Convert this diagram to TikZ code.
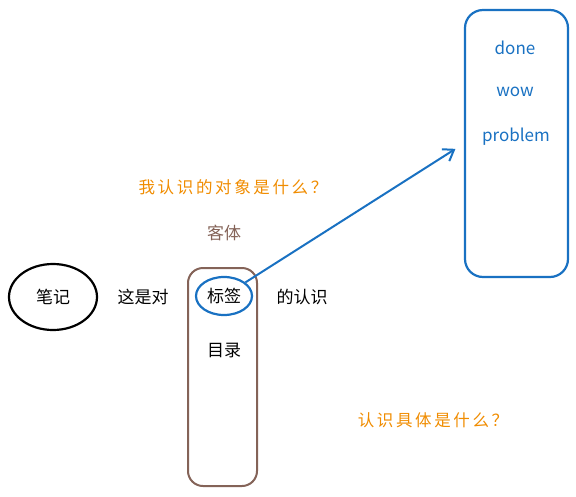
\documentclass[tikz,border=0pt]{standalone}
\usepackage{fontspec}
\newfontfamily\cjk{Noto Sans CJK SC}
\newfontfamily\cjkwide[LetterSpace=16]{Noto Sans CJK SC}
\usetikzlibrary{shapes.geometric, arrows.meta}

\definecolor{inkblue}{HTML}{1971C2}
\definecolor{inkorange}{HTML}{F08C00}
\definecolor{inkbrown}{HTML}{846358}

\tikzset{
  word/.style={font=\cjk\fontsize{17}{20}\selectfont, inner sep=0pt},
  question/.style={font=\cjkwide\fontsize{16.5}{20}\selectfont, text=inkorange, inner sep=0pt},
  listword/.style={font=\cjk\fontsize{17}{20}\selectfont, text=inkblue, inner sep=0pt}
}

\begin{document}
\begin{tikzpicture}[x=1pt, y=-1pt]

 \useasboundingbox (0,0) rectangle (576,496);

 %%%  nodes

 % note and object
 \node [ellipse, draw, line width=2.2pt, minimum width=88pt, minimum height=66pt, inner sep=0pt, word] (note) at (53,297) {笔记};
 \node [word] (this) at (143,297) {这是对};
 \node [rectangle, rounded corners=15pt, draw=inkbrown, line width=2pt, minimum width=69pt, minimum height=218pt] (object) at (222.5,377) {};
 \node [ellipse, draw=inkblue, line width=2.2pt, minimum width=56pt, minimum height=38pt, inner sep=0pt, word] (tag) at (224,296) {标签};
 \node [word] (of) at (302,297) {的认识};
 \node [word] (dir) at (224,350) {目录};
 \node [word, text=inkbrown] (obj) at (224,233) {客体};

 % questions
 \node [question] (q1) at (233,187) {我认识的对象是什么？};
 \node [question] (q2) at (433,420) {认识具体是什么？};

 % tag box
 \node [rectangle, rounded corners=18pt, draw=inkblue, line width=2.2pt, minimum width=103pt, minimum height=267pt] (box) at (516.5,143.5) {};
 \node [listword] (done) at (515,48) {done};
 \node [listword] (wow) at (515,92) {wow};
 \node [listword] (prob) at (516,137) {problem};

 \draw [inkblue, line width=2pt, -{Straight Barb[length=10pt, width=14pt, line width=2pt]}, shorten >=10pt] (tag) to (box.west);

\end{tikzpicture}
\end{document}
